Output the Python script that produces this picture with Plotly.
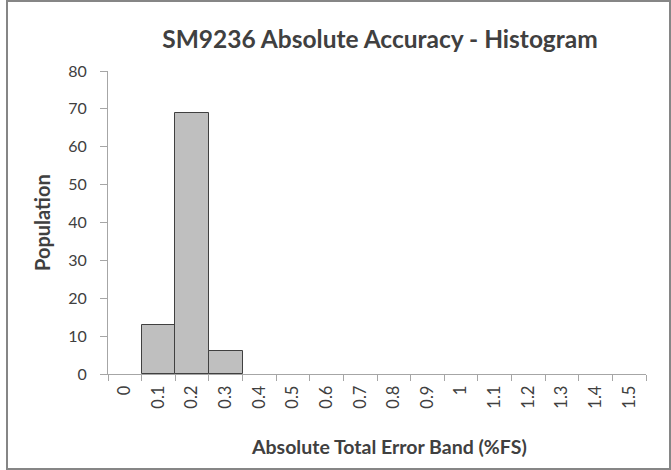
import plotly.graph_objects as go

categories = ["0", "0.1", "0.2", "0.3", "0.4", "0.5", "0.6", "0.7", "0.8",
              "0.9", "1", "1.1", "1.2", "1.3", "1.4", "1.5"]
population = [0, 13, 69, 6, 0, 0, 0, 0, 0, 0, 0, 0, 0, 0, 0, 0]
y_ticks = [0, 10, 20, 30, 40, 50, 60, 70, 80]

FONT = "Lato"
TXT = "#404040"

fig = go.Figure()
fig.add_trace(go.Bar(
    x=categories, y=population,
    marker=dict(color="#bfbfbf",
                line=dict(color="#404040",
                          width=[1 if v > 0 else 0 for v in population])),
    hoverinfo="x+y",
))

L, R, T, B = 108, 25, 71, 96
W, H = 671, 470
pw, ph = W - L - R, H - T - B

def px(x):
    return (x - L) / pw

def py(y):
    return (H - B - y) / ph

fig.update_layout(
    width=W, height=H,
    margin=dict(l=L, r=R, t=T, b=B, pad=0),
    paper_bgcolor="white", plot_bgcolor="white",
    bargap=0,
    showlegend=False,
    font=dict(family=FONT, color=TXT),
    title=dict(text="<b>SM9236 Absolute Accuracy - Histogram</b>",
               x=px(380), xref="paper", xanchor="center",
               y=1 - 39 / H, yanchor="middle",
               font=dict(size=24.5, family=FONT, color=TXT)),
    xaxis=dict(
        type="category", categoryorder="array", categoryarray=categories,
        tickson="boundaries", ticks="outside", ticklen=6, tickcolor="#a6a6a6",
        showline=True, linecolor="#a6a6a6", linewidth=1,
        showgrid=False, tickangle=-90, ticklabelstandoff=4,
        tickfont=dict(size=16.5, family=FONT, color=TXT),
    ),
    yaxis=dict(
        range=[0, 80], tickvals=y_ticks, ticks="outside", ticklen=7,
        tickcolor="#a6a6a6", showline=True, linecolor="#a6a6a6", linewidth=1,
        showgrid=False, zeroline=False, ticklabelstandoff=10,
        tickfont=dict(size=16, family=FONT, color=TXT),
    ),
    annotations=[
        dict(text="<b>Absolute Total Error Band (%FS)</b>", xref="paper",
             yref="paper", x=px(389), y=py(446), xanchor="center",
             yanchor="middle", showarrow=False,
             font=dict(size=19.5, family=FONT, color=TXT)),
        dict(text="<b>Population</b>", xref="paper", yref="paper",
             x=px(42), y=py(223), xanchor="center", yanchor="middle",
             textangle=-90, showarrow=False,
             font=dict(size=20, family=FONT, color=TXT)),
    ],
    shapes=[dict(type="rect", xref="paper", yref="paper",
                 x0=px(7), x1=px(670), y0=py(469), y1=py(1),
                 line=dict(color="#868686", width=2), layer="below")],
)

fig.write_html("out.html",
               config={"displayModeBar": False},
               post_script="document.body.style.margin='0';"
                           "document.body.style.overflow='hidden';")
